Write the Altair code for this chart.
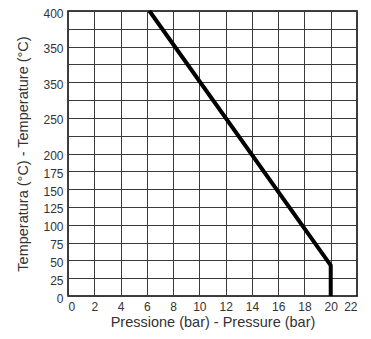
import altair as alt
import pandas as pd

pressure = [6.2, 20.0, 20.0]
temperature = [400, 43, 0]
order = [0, 1, 2]

x_ticks = list(range(0, 23, 2))
y_ticks = list(range(0, 401, 25))
y_shown = {0: "0", 25: "25", 50: "50", 75: "75", 100: "100", 125: "125", 150: "150",
           175: "175", 200: "200", 250: "250", 300: "350", 350: "350", 400: "400"}

df = pd.DataFrame({"p": pressure, "t": temperature, "o": order})

expr = "+datum.value==0?'0':" + ":".join(
    f"datum.value=={k}?'{v}'" for k, v in y_shown.items() if k != 0) + ":''"

font = "Liberation Sans"

chart = alt.Chart(df).mark_line(color="black", strokeWidth=4, strokeCap="butt", strokeJoin="miter").encode(
    x=alt.X("p:Q", scale=alt.Scale(domain=[0, 22], nice=False),
            axis=alt.Axis(values=x_ticks, title="Pressione (bar) - Pressure (bar)",
                          grid=True, ticks=False, domain=False, labelPadding=5,
                          titlePadding=3)),
    y=alt.Y("t:Q", scale=alt.Scale(domain=[0, 400], nice=False),
            axis=alt.Axis(values=y_ticks, title="Temperatura (°C) - Temperature (°C)",
                          labelExpr=expr, grid=True, ticks=False, domain=False,
                          labelPadding=5, labelOffset=2, titlePadding=12)),
    order="o:Q",
).properties(
    width=289, height=285,
    autosize=alt.AutoSizeParams(type="none"),
    padding={"left": 60, "top": 3, "right": 6, "bottom": 35},
).configure_view(
    stroke="black", strokeWidth=1.5
).configure_axis(
    gridColor="#3a3a3a", gridWidth=1, gridOpacity=1,
    labelFont=font, titleFont=font, labelFontSize=12, titleFontSize=14.5,
    labelColor="#333333", titleColor="#333333", titleFontWeight="normal",
)

chart.save("out.html", embed_options={"renderer": "svg", "actions": False})
